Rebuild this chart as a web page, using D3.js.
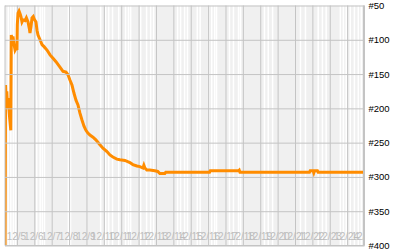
<!DOCTYPE html>
<html>
<head>
<meta charset="utf-8">
<script src="https://cdn.jsdelivr.net/npm/d3@7"></script>
<style>
  body { margin: 0; background: #fff; }
  svg { display: block; }
</style>
</head>
<body>
<svg id="chart" width="400" height="250"></svg>
<script>
// hours are counted from 12/5 00:00
var baseDate = new Date(2012, 11, 5, 0, 0);
var startHour = -16.5, endHour = 480;

var dayLabels = ["12/5","12/6","12/7","12/8","12/9","12/10","12/11","12/12","12/13","12/14",
                 "12/15","12/16","12/17","12/18","12/19","12/20","12/21","12/22","12/23","12/24","12/25"];
var rankTicks = [50, 100, 150, 200, 250, 300, 350, 400];

var hours = [-16.4,-15.7,-15,-14,-13,-12,-11,-10,-8.5,-7.8,-6.8,-5.5,-4,-2.6,-1.2,0,0.5,1.5,2.9,4.3,
             5.7,7,8.4,11.2,13,15.3,17,18,19.5,20.8,22.5,24,26.3,27.7,29.1,31.9,34.6,37.4,41.5,45.7,
             49.8,53.9,59.4,63.6,67.7,70.5,73.3,76,78.8,81.5,84.3,87,89.8,92.6,95.3,98,100.8,105,109,114.6,
             118.8,124.3,128.4,132.5,138,142.2,149.1,156,160.1,165.7,169.8,174,175.3,176.7,179.4,183.5,190.4,194.5,197.3,204.2,
             205.6,266,267,306,307,308,404,405,409,410,411,415,416,479];
var ranks = [400,166,188,175,200,185,202,215,232,93,100,95,107,115,112,115,78,61,58,62,
             67,74,71,72,68,74,83,90,80,68,66,70,74,86,93,100,107,110,115,122,
             127,132,140,146,147,151,159,166,178,188,195,207,217,226,232,236,239,242,246,253,
             258,263,268,271,274,275,276,279,282,284,285,287,283,287,290,290,291,292,295,295,
             293,293,291,291,290,293,293,291,291,294,291,291,293,293];

// white stripes in the background (hours)
var gapHours = [-13,-9.5,-6,-3,26.3,31,34,37,70,73,114.6,121.4,125.7,131,139.5,149,153,156,
                169.8,178,183.6,187.7,220.8,225,230.5,234.5,248,252,263.7,268,272,274.6,
                292.5,298,305,307.7,340.8,346,352,390.5,397.4,415,420.8,426,445.6,449.8,453.7,
                459.3,465,470.4,474.5];

var plotL = 5, plotR = 364.5, plotT = 5.5, plotB = 245.5;

function atHour(h) { return new Date(baseDate.getTime() + h * 3600000); }

var x = d3.scaleTime()
    .domain([atHour(startHour), atHour(endHour)])
    .range([plotL, plotR]);
var y = d3.scaleLinear()
    .domain([50, 400])
    .range([plotT, plotB]);

var svg = d3.select("#chart");

svg.append("defs").append("clipPath").attr("id", "plotClip")
  .append("rect")
    .attr("x", plotL).attr("y", plotT - 3)
    .attr("width", plotR - plotL - 1).attr("height", plotB - plotT + 3);

svg.append("rect")
    .attr("x", plotL).attr("y", plotT)
    .attr("width", plotR - plotL).attr("height", plotB - plotT)
    .style("fill", "#f0f0f0");

var plot = svg.append("g").attr("clip-path", "url(#plotClip)");

plot.selectAll("rect.gap").data(gapHours).enter().append("rect")
    .attr("class", "gap")
    .attr("x", function(d) { return x(atHour(d)); })
    .attr("y", plotT)
    .attr("width", 1.5)
    .attr("height", plotB - plotT)
    .style("fill", "#ffffff");

// vertical grid + day labels
var xAxis = d3.axisBottom(x)
    .tickValues(dayLabels.map(function(d, i) { return atHour(i * 24); }))
    .tickFormat(function(d, i) { return dayLabels[i]; })
    .tickSize(-(plotB - plotT));

var gx = plot.append("g")
    .attr("transform", "translate(0," + plotB + ")")
    .call(xAxis);
gx.select(".domain").remove();
gx.selectAll(".tick line").style("stroke", "#c4c4c4");
gx.selectAll(".tick text")
    .attr("y", -5.5)
    .attr("dy", null)
    .attr("dx", -1)
    .style("fill", "#bdbdbd")
    .style("font-family", "Liberation Sans, Arial, sans-serif")
    .style("font-size", "10px");

// horizontal grid + rank labels on the right
var yAxis = d3.axisRight(y)
    .tickValues(rankTicks)
    .tickFormat(function(d) { return "#" + d; })
    .tickSize(-(plotR - plotL))
    .tickPadding(4);

var gy = svg.append("g")
    .attr("transform", "translate(" + plotR + ",0)")
    .call(yAxis);
gy.select(".domain").remove();
gy.selectAll(".tick line").style("stroke", "#c4c4c4");
gy.selectAll(".tick text")
    .style("fill", "#000")
    .style("font-family", "Liberation Sans, Arial, sans-serif")
    .style("font-size", "9.5px");

// borders
svg.append("line").attr("x1", plotL).attr("x2", plotL).attr("y1", plotT).attr("y2", plotB)
    .style("stroke", "#c4c4c4");
svg.append("line").attr("x1", plotL).attr("x2", plotR).attr("y1", plotB).attr("y2", plotB)
    .style("stroke", "#c4c4c4");
svg.append("line").attr("x1", plotR - 0.5).attr("x2", plotR - 0.5).attr("y1", plotT).attr("y2", plotB)
    .style("stroke", "#c4c4c4").style("stroke-width", 2);

var rankLine = d3.line()
    .x(function(d, i) { return x(atHour(hours[i])); })
    .y(function(d) { return y(d); });

plot.append("path")
    .datum(ranks)
    .attr("d", rankLine)
    .style("fill", "none")
    .style("stroke", "#ff8c00")
    .style("stroke-width", 3)
    .style("stroke-linejoin", "miter");
</script>
</body>
</html>
